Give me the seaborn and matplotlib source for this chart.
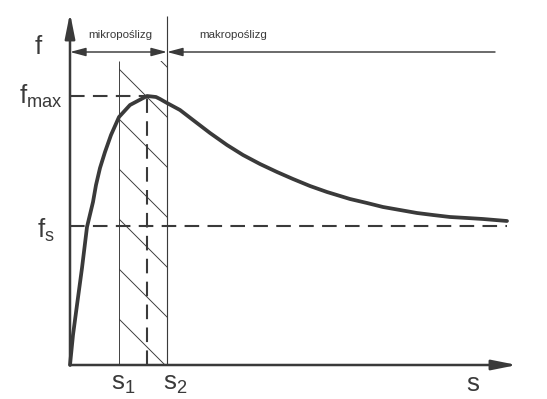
import matplotlib.pyplot as plt
import seaborn as sns

# friction curve f(s) (arbitrary units)
slip = [0.0, 0.3, 0.7, 1.2, 1.7, 2.3, 2.6, 3.0, 3.5, 4.1, 4.9, 6.0, 7.7, 8.6,
        9.0, 9.7, 11.0, 12.3, 14.0, 15.7, 17.3, 19.0, 20.7, 22.3, 24.0, 25.7,
        28.0, 29.7, 31.3, 33.0, 34.7, 36.3, 38.0, 39.7, 41.3, 43.7]
friction = [0.0, 3.0, 6.0, 9.7, 13.8, 16.3, 18.0, 19.7, 21.3, 23.0, 24.8, 26.0, 26.9, 26.8,
            26.6, 26.2, 25.5, 24.5, 23.2, 22.0, 21.0, 20.1, 19.3, 18.6, 17.9, 17.3,
            16.6, 16.2, 15.8, 15.5, 15.2, 15.0, 14.8, 14.7, 14.6, 14.4]

# characteristic points
f_max = 26.9
f_s = 13.9
s_1 = 4.9
s_peak = 7.7
s_2 = 9.7

regions = ['mikropoślizg', 'makropoślizg']

ink = '#3a3a3a'

sns.set_theme(style='white')
plt.rcParams['font.family'] = ['Liberation Sans', 'DejaVu Sans']
plt.rcParams['mathtext.fontset'] = 'custom'
plt.rcParams['mathtext.rm'] = 'Liberation Sans'
plt.rcParams['hatch.linewidth'] = 0.45
plt.rcParams['hatch.color'] = ink

fig = plt.figure(figsize=(547 / 150, 399 / 150), dpi=150)
ax = fig.add_axes([0, 0, 1, 1])
ax.set_xlim(-7.0, 47.7)
ax.set_ylim(-3.4, 36.5)
ax.axis('off')

# hatched micro-slip band
ax.fill_between([s_1, s_2], 0, 30.4, facecolor='none', edgecolor=ink,
                hatch='\\', linewidth=0)
ax.vlines(s_1, 0, 30.4, color=ink, lw=0.45)
ax.vlines(s_2, 0, 34.9, color=ink, lw=0.55)

# dashed reference lines
dash = dict(color=ink, lw=1.0, dashes=(7, 4))
ax.plot([0, s_peak], [f_max, f_max], **dash)
ax.plot([s_peak, s_peak], [0, f_max], **dash)
ax.plot([0, slip[-1]], [f_s, f_s], **dash)

# the curve
sns.lineplot(x=slip, y=friction, ax=ax, color=ink, lw=1.8, sort=False)

# coordinate axes with arrows
big = dict(arrowstyle='-|>,head_length=0.5,head_width=0.1', color=ink, lw=1.2,
           mutation_scale=20, shrinkA=0, shrinkB=0)
ax.annotate('', xy=(44.7, 0), xytext=(0, 0), arrowprops=big)
ax.annotate('', xy=(0, 35.2), xytext=(0, 0), arrowprops=big)

# region arrows
small = dict(color=ink, lw=0.7, mutation_scale=14, shrinkA=0, shrinkB=0)
ax.annotate('', xy=(s_2, 31.3), xytext=(0, 31.3),
            arrowprops=dict(arrowstyle='<|-|>,head_length=0.45,head_width=0.12', **small))
ax.annotate('', xy=(s_2, 31.3), xytext=(42.5, 31.3),
            arrowprops=dict(arrowstyle='-|>,head_length=0.45,head_width=0.12', **small))

ax.text(5.0, 33.0, regions[0], fontsize=5.5, color=ink, ha='center', va='center')
ax.text(16.3, 33.0, regions[1], fontsize=5.5, color=ink, ha='center', va='center')

# labels
lab = dict(fontsize=12.5, color=ink)
ax.text(-3.1, 31.8, r'$\mathrm{f}$', ha='center', va='center', **lab)
ax.text(-0.7, f_max, r'$\mathrm{f_{max}}$', ha='right', va='center', **lab)
ax.text(-1.5, f_s - 0.4, r'$\mathrm{f_s}$', ha='right', va='center', **lab)
ax.text(s_1 + 0.4, -1.9, r'$\mathrm{s_1}$', ha='center', va='center', **lab)
ax.text(s_2 + 0.8, -1.9, r'$\mathrm{s_2}$', ha='center', va='center', **lab)
ax.text(40.3, -1.9, r'$\mathrm{s}$', ha='center', va='center', **lab)

fig.savefig('out.png', dpi=150)
